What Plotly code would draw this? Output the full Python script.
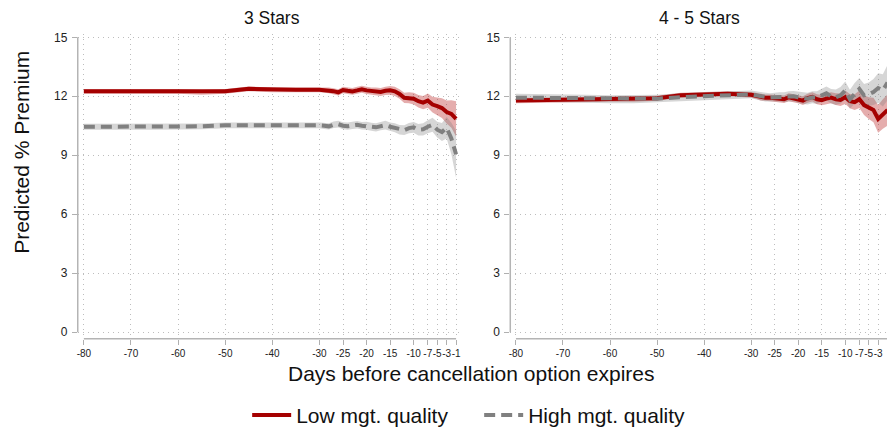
import plotly.graph_objects as go

# ---------------- data ----------------
days = [-80, -75, -70, -65, -60, -55, -50, -45, -40, -35, -30,
        -29, -28, -27, -26, -25, -24, -23, -22, -21, -20,
        -19, -18, -17, -16, -15, -14, -13, -12, -11, -10,
        -9, -8, -7, -6, -5, -4, -3, -2, -1]

tick_vals = [-80, -70, -60, -50, -40, -30, -25, -20, -15, -10, -7, -5, -3, -1]
tick_text = [str(v) for v in tick_vals]
y_ticks = [0, 3, 6, 9, 12, 15]

# 3 Stars
low3 = [12.25, 12.25, 12.25, 12.25, 12.25, 12.20, 12.25, 12.38, 12.33, 12.33, 12.33,
        12.32, 12.30, 12.26, 12.20, 12.32, 12.28, 12.25, 12.30, 12.36, 12.30,
        12.26, 12.25, 12.22, 12.28, 12.30, 12.25, 12.12, 11.92, 11.92, 11.88,
        11.75, 11.68, 11.78, 11.58, 11.50, 11.40, 11.20, 11.10, 10.85]
low3_ci = [0.12, 0.12, 0.12, 0.12, 0.12, 0.12, 0.12, 0.12, 0.12, 0.12, 0.13,
           0.14, 0.15, 0.15, 0.16, 0.16, 0.17, 0.17, 0.18, 0.18, 0.19,
           0.19, 0.20, 0.20, 0.21, 0.22, 0.23, 0.24, 0.26, 0.28, 0.30,
           0.32, 0.34, 0.36, 0.40, 0.44, 0.50, 0.58, 0.70, 0.90]
high3 = [10.45, 10.45, 10.45, 10.45, 10.45, 10.47, 10.52, 10.53, 10.52, 10.52, 10.52,
         10.50, 10.47, 10.55, 10.58, 10.50, 10.48, 10.52, 10.55, 10.50, 10.50,
         10.45, 10.42, 10.48, 10.53, 10.45, 10.40, 10.30, 10.28, 10.38, 10.42,
         10.30, 10.32, 10.45, 10.55, 10.30, 10.18, 10.40, 9.85, 9.05]
high3_ci = [0.15, 0.15, 0.15, 0.15, 0.15, 0.15, 0.15, 0.15, 0.15, 0.15, 0.15,
            0.16, 0.16, 0.17, 0.17, 0.18, 0.18, 0.18, 0.19, 0.19, 0.20,
            0.20, 0.21, 0.21, 0.22, 0.22, 0.23, 0.24, 0.25, 0.26, 0.27,
            0.29, 0.31, 0.33, 0.36, 0.40, 0.46, 0.55, 0.80, 1.20]

# 4 - 5 Stars
low45 = [11.78, 11.80, 11.82, 11.84, 11.85, 11.85, 11.90, 12.05, 12.10, 12.13, 12.08,
         12.02, 11.95, 11.93, 11.92, 11.90, 11.88, 11.85, 11.95, 11.90, 11.85,
         11.78, 11.90, 11.97, 11.85, 11.80, 11.88, 11.93, 11.85, 11.82, 11.95,
         11.75, 11.70, 11.85, 11.55, 11.40, 11.30, 10.85, 11.10, 11.30]
low45_ci = [0.13, 0.13, 0.13, 0.13, 0.13, 0.13, 0.13, 0.13, 0.13, 0.13, 0.14,
            0.15, 0.16, 0.16, 0.17, 0.18, 0.18, 0.19, 0.20, 0.20, 0.21,
            0.22, 0.23, 0.24, 0.25, 0.26, 0.27, 0.28, 0.30, 0.32, 0.34,
            0.36, 0.40, 0.44, 0.50, 0.55, 0.62, 0.70, 0.75, 0.80]
high45 = [11.93, 11.92, 11.90, 11.88, 11.85, 11.85, 11.88, 11.95, 12.00, 12.05, 12.10,
          12.05, 12.00, 11.95, 11.93, 11.95, 11.97, 11.95, 12.00, 12.00, 11.95,
          11.90, 11.88, 11.95, 11.93, 12.05, 12.15, 12.00, 11.95, 12.05, 12.30,
          11.85, 12.15, 12.38, 12.05, 12.10, 12.22, 12.42, 12.30, 12.70]
high45_ci = [0.20, 0.20, 0.20, 0.20, 0.20, 0.20, 0.20, 0.20, 0.20, 0.20, 0.20,
             0.20, 0.21, 0.22, 0.22, 0.23, 0.24, 0.25, 0.26, 0.27, 0.28,
             0.29, 0.30, 0.31, 0.32, 0.33, 0.35, 0.37, 0.40, 0.42, 0.45,
             0.48, 0.52, 0.55, 0.58, 0.60, 0.66, 0.75, 0.82, 0.90]

series_names = ["Low mgt. quality", "High mgt. quality"]

# ---------------- style ----------------
RED = "#a50000"
RED_BAND = "rgba(175,0,0,0.32)"
GRAY = "#808080"
GRAY_BAND = "rgba(128,128,128,0.32)"
FONT = "Arial, Liberation Sans, sans-serif"

fig = go.Figure()


def add_band(xa, ya, y, ci, color):
    upper = [a + b for a, b in zip(y, ci)]
    lower = [a - b for a, b in zip(y, ci)]
    fig.add_trace(go.Scatter(
        x=days + days[::-1], y=upper + lower[::-1], xaxis=xa, yaxis=ya,
        fill="toself", fillcolor=color, line=dict(width=0),
        mode="lines", hoverinfo="skip", showlegend=False))


panels = [("x", "y", low3, low3_ci, high3, high3_ci, True),
          ("x2", "y2", low45, low45_ci, high45, high45_ci, False)]

for xa, ya, lo, loci, hi, hici, leg in panels:
    add_band(xa, ya, lo, loci, RED_BAND)
    add_band(xa, ya, hi, hici, GRAY_BAND)
    fig.add_trace(go.Scatter(x=days, y=lo, xaxis=xa, yaxis=ya, mode="lines",
                             line=dict(color=RED, width=4),
                             name=series_names[0], showlegend=leg))
    fig.add_trace(go.Scatter(x=days, y=hi, xaxis=xa, yaxis=ya, mode="lines",
                             line=dict(color=GRAY, width=4, dash="11px,6px"),
                             name=series_names[1], showlegend=leg))

W, H = 888, 436
ydom = [1 - 341.7 / H, 1 - 31 / H]

xcommon = dict(tickmode="array", tickvals=tick_vals, ticktext=tick_text, tickangle=0,
               showgrid=True, gridcolor="#bdbdbd", griddash="1px,4px", gridwidth=1,
               zeroline=False, showline=False, ticks="outside", ticklen=5,
               tickwidth=1.3, tickcolor="#b0b0b0",
               tickfont=dict(family=FONT, size=10, color="#222"))
ycommon = dict(tickmode="array", tickvals=y_ticks, range=[-0.33, 15.15],
               showgrid=True, gridcolor="#bdbdbd", griddash="1px,4px", gridwidth=1,
               zeroline=False, showline=False, ticks="outside", ticklen=5,
               tickwidth=1.3, tickcolor="#b0b0b0", ticklabelstandoff=2,
               tickfont=dict(family=FONT, size=12, color="#222"), domain=ydom)

fig.update_layout(
    width=W, height=H, margin=dict(l=0, r=0, t=0, b=0),
    paper_bgcolor="white", plot_bgcolor="white",
    xaxis=dict(domain=[76 / W, 459.4 / W], range=[-81.3, -0.2], anchor="y", **xcommon),
    yaxis=dict(anchor="x", **ycommon),
    xaxis2=dict(domain=[510 / W, 1.0], range=[-81.2, -1.12], anchor="y2", **xcommon),
    yaxis2=dict(anchor="x2", **ycommon),
    showlegend=True,
    legend=dict(orientation="h", x=246 / W, xanchor="left", y=1 - 420 / H,
                yanchor="middle", font=dict(family=FONT, size=21, color="#111"),
                bgcolor="rgba(0,0,0,0)", itemwidth=39,
                entrywidth=178, entrywidthmode="pixels"),
    font=dict(family=FONT),
)

# axis lines (Stata style, spanning only the tick range)
line_style = dict(color="#b4b4b4", width=1.5)
for xr, yr in [("x", "y"), ("x2", "y2")]:
    fig.add_shape(type="line", xref=xr, yref=f"{yr} domain", x0=-80, x1=-1, y0=0, y1=0,
                  line=line_style, layer="above")
    fig.add_shape(type="line", xref=f"{xr} domain", yref=yr, x0=0, x1=0, y0=0, y1=15,
                  line=line_style, layer="above")

# titles
ann = dict(xref="paper", yref="paper", showarrow=False, xanchor="center", yanchor="middle")
fig.add_annotation(text="3 Stars", x=270.5 / W, y=1 - 14 / H,
                   font=dict(family=FONT, size=17.5, color="#111"), **ann)
fig.add_annotation(text="4 - 5 Stars", x=700 / W, y=1 - 14 / H,
                   font=dict(family=FONT, size=17.5, color="#111"), **ann)
fig.add_annotation(text="Predicted % Premium", x=20 / W, y=1 - 151 / H, textangle=-90,
                   font=dict(family=FONT, size=21, color="#111"), **ann)
fig.add_annotation(text="Days before cancellation option expires", x=471 / W, y=1 - 377 / H,
                   font=dict(family=FONT, size=21, color="#111"), **ann)

fig.write_html("out.html")
